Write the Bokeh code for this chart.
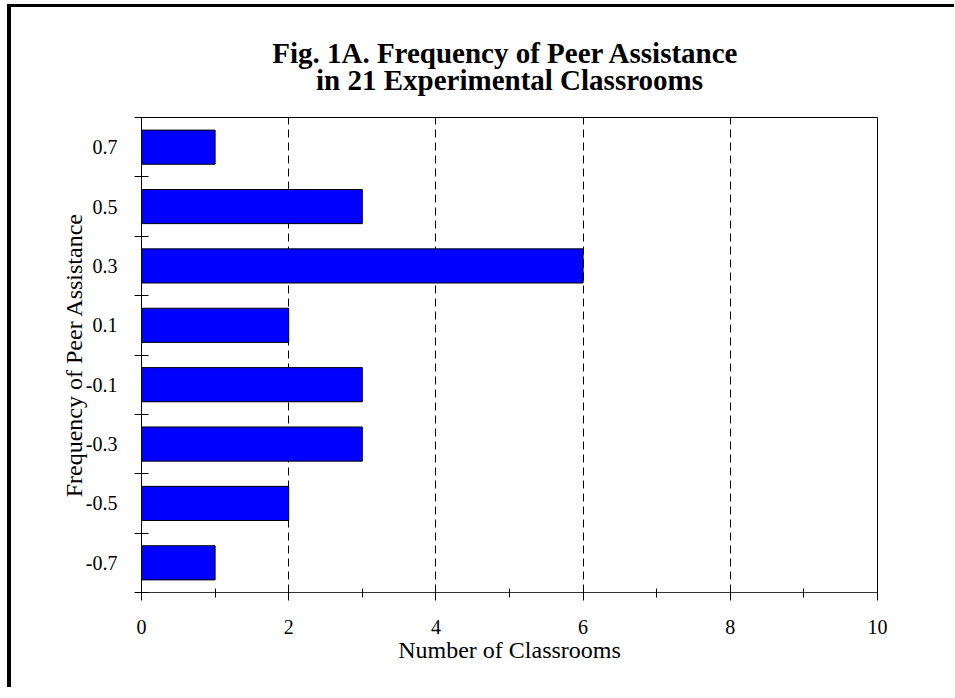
from bokeh.plotting import figure
from bokeh.layouts import column
from bokeh.models import FixedTicker, Range1d
from bokeh.core.properties import value
from bokeh.embed import file_html
from bokeh.resources import INLINE

# ---- data ----
categories = ["-0.7", "-0.5", "-0.3", "-0.1", "0.1", "0.3", "0.5", "0.7"]
centers = [-0.7, -0.5, -0.3, -0.1, 0.1, 0.3, 0.5, 0.7]
counts = [1, 2, 3, 3, 2, 6, 3, 1]
boundaries = [-0.8, -0.6, -0.4, -0.2, 0.0, 0.2, 0.4, 0.6, 0.8]
x_major = [0, 2, 4, 6, 8, 10]
x_minor = [1, 3, 5, 7, 9]
grid_at = [2, 4, 6, 8]

title_lines = ["Fig. 1A.  Frequency of Peer Assistance",
               "in 21 Experimental Classrooms"]
x_label = "Number of Classrooms"
y_label = "Frequency of Peer Assistance"

SERIF = "Liberation Serif"
W = 943
LEFT, RIGHT = 130, 77
TITLE_H = 109

# ---- title strip (pixel-scaled y range so lines sit at fixed baselines) ----
t = figure(width=W, height=TITLE_H, output_backend="svg", toolbar_location=None,
           x_range=Range1d(x_major[0], x_major[-1]), y_range=Range1d(0, TITLE_H),
           x_axis_type=None, y_axis_type=None,
           min_border_left=LEFT, min_border_right=RIGHT,
           min_border_top=0, min_border_bottom=0)
t.outline_line_color = None
t.xgrid.visible = False
t.ygrid.visible = False
t.background_fill_color = "white"
t.border_fill_color = "white"
x_mid = (x_major[0] + x_major[-1]) / 2
t.text(x=[x_mid, x_mid], y=[TITLE_H - 45, TITLE_H - 72], text=title_lines,
       text_align="center", text_baseline="alphabetic",
       text_font=value(SERIF), text_font_size="29px",
       text_font_style="bold", text_color="black")

# ---- main chart ----
p = figure(width=W, height=571, output_backend="svg", toolbar_location=None,
           x_range=Range1d(0, 10), y_range=Range1d(-0.8, 0.8),
           min_border_left=LEFT, min_border_right=RIGHT,
           min_border_top=1, min_border_bottom=95)

p.hbar(y=centers, left=0, right=counts, height=0.115,
       fill_color="#0000FF", line_color="black", line_width=1)

p.outline_line_color = "black"
p.outline_line_width = 1
p.background_fill_color = "white"
p.border_fill_color = "white"

# x axis
xa = p.xaxis[0]
xa.ticker = FixedTicker(ticks=x_major, minor_ticks=x_minor)
xa.major_tick_in = 7
xa.major_tick_out = 8
xa.minor_tick_in = 4
xa.minor_tick_out = 5
xa.axis_line_color = "#333333"
xa.major_tick_line_color = "black"
xa.minor_tick_line_color = "black"
xa.major_label_text_font = SERIF
xa.major_label_text_font_size = "20px"
xa.major_label_text_color = "black"
xa.major_label_standoff = 19
xa.axis_label = x_label
xa.axis_label_text_font = SERIF
xa.axis_label_text_font_size = "24px"
xa.axis_label_text_font_style = "normal"
xa.axis_label_text_color = "black"
xa.axis_label_standoff = 0

# y axis
ya = p.yaxis[0]
ya.ticker = FixedTicker(ticks=centers, minor_ticks=boundaries)
ya.major_label_overrides = dict(zip(centers, categories))
ya.major_tick_in = 0
ya.major_tick_out = 0
ya.minor_tick_in = 7
ya.minor_tick_out = 7
ya.axis_line_color = "black"
ya.minor_tick_line_color = "black"
ya.major_label_text_font = SERIF
ya.major_label_text_font_size = "20px"
ya.major_label_text_color = "black"
ya.major_label_standoff = 17
ya.axis_label = y_label
ya.axis_label_text_font = SERIF
ya.axis_label_text_font_size = "24px"
ya.axis_label_text_font_style = "normal"
ya.axis_label_text_color = "black"
ya.axis_label_standoff = -4

p.xgrid.ticker = FixedTicker(ticks=grid_at)
p.xgrid.grid_line_color = "black"
p.xgrid.grid_line_dash = "8 5"
p.xgrid.grid_line_width = 1
p.ygrid.visible = False

lay = column(t, p, spacing=0)
lay.styles = {"margin-left": "7px", "margin-top": "4px",
              "border-left": "4px solid black", "border-top": "3px solid black"}

open("out.html", "w").write(file_html(lay, INLINE))
